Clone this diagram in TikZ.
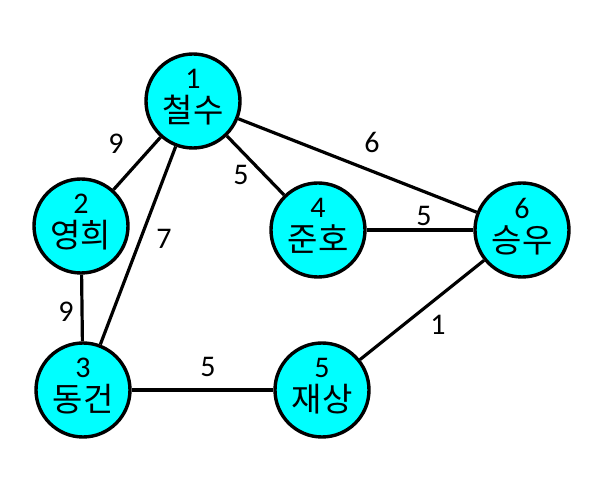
\documentclass[tikz,border=0pt]{standalone}
\usepackage{fontspec}
\setmainfont{Carlito}
\newfontfamily\kor{Noto Sans CJK KR}
\usepackage{tikz}
\usetikzlibrary{positioning}
\definecolor{aqua}{RGB}{0,255,255}
\newcommand{\pname}[2]{#1\\[6pt]{\kor\fontsize{33}{33}\selectfont #2\rule[-10pt]{0pt}{0pt}}}

\begin{document}
\begin{tikzpicture}[
    x=1pt, y=1pt,
    person/.style={circle, draw=black, line width=3.4pt, fill=aqua,
        minimum size=94pt, inner sep=0, align=center,
        font=\fontsize{30}{28}\selectfont},
    link/.style={line width=3.2pt},
    weight/.style={inner sep=0, font=\fontsize{30}{30}\selectfont}]
\useasboundingbox (0,0) rectangle (608,490);

\node[person] (N1) at (193,389) {\pname{1}{철수}};
\node[person] (N2) at (81,264)  {\pname{2}{영희}};
\node[person] (N3) at (83,100)  {\pname{3}{동건}};
\node[person] (N4) at (318,260) {\pname{4}{준호}};
\node[person] (N5) at (322,100) {\pname{5}{재상}};
\node[person] (N6) at (522,260) {\pname{6}{승우}};

\path[draw, link] (N1) -- (N2);
\path[draw, link] (N1) -- (N3);
\path[draw, link] (N1) -- (N4);
\path[draw, link] (N1) -- (N6);
\path[draw, link] (N2) -- (N3);
\path[draw, link] (N4) -- (N6);
\path[draw, link] (N3) -- (N5);
\path[draw, link] (N5) -- (N6);

\node[weight] (W12) at (116,346) {9};
\node[weight] (W14) at (241,315) {5};
\node[weight] (W16) at (372,348) {6};
\node[weight] (W13) at (164,251) {7};
\node[weight] (W23) at (66,178)  {9};
\node[weight] (W46) at (424,274) {5};
\node[weight] (W35) at (208,123) {5};
\node[weight] (W56) at (438,165) {1};

\end{tikzpicture}
\end{document}
